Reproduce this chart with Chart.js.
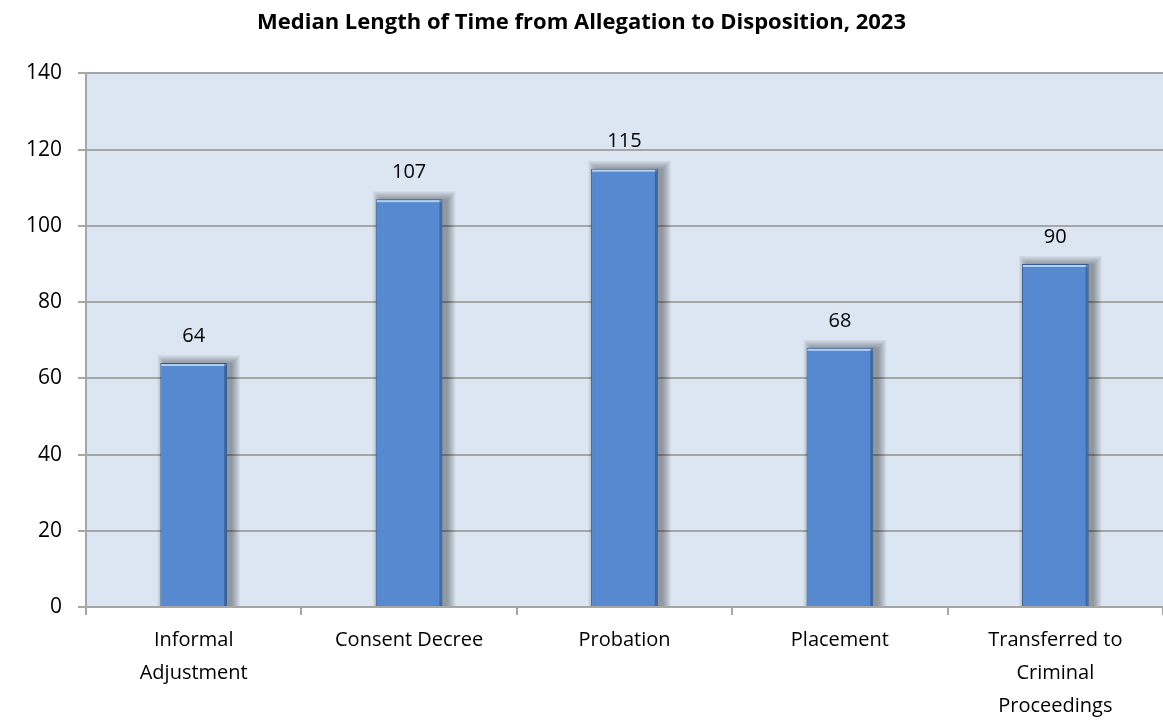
<!DOCTYPE html>
<html>
<head>
<meta charset="utf-8">
<script src="https://cdn.jsdelivr.net/npm/chart.js@4"></script>
<style>
  html, body { margin: 0; padding: 0; background: #fff; }
  #wrap { width: 1163px; height: 720px; }
</style>
</head>
<body>
<div id="wrap"><canvas id="medianChart" width="1163" height="720"></canvas></div>
<script>
// categories and values
const categories = [
    ['Informal', 'Adjustment'],
    'Consent Decree',
    'Probation',
    'Placement',
    ['Transferred to', 'Criminal', 'Proceedings']
];
const medianDays = [64, 107, 115, 68, 90];
const yTicks = [0, 20, 40, 60, 80, 100, 120, 140];

const fontFamily = "'Open Sans', 'Liberation Sans', sans-serif";

// light blue plot background
const plotBackground = {
    id: 'plotBackground',
    beforeDraw(chart) {
        const { ctx, chartArea: a } = chart;
        ctx.save();
        ctx.fillStyle = '#DCE6F2';
        ctx.fillRect(a.left, a.top, a.right - a.left, a.bottom - a.top);
        ctx.restore();
    }
};

// soft shadow behind bars - stacked translucent rects, shadowBlur didn't show up
const barShadow = {
    id: 'barShadow',
    beforeDatasetsDraw(chart) {
        const ctx = chart.ctx;
        const a = chart.chartArea;
        ctx.save();
        ctx.beginPath();
        ctx.rect(a.left, a.top - 20, a.right - a.left, a.bottom - a.top + 19);
        ctx.clip();
        chart.getDatasetMeta(0).data.forEach(bar => {
            const p = bar.getProps(['x', 'y', 'base', 'width'], true);
            const l = p.x - p.width / 2 + 5;
            const t = p.y;
            for (let k = 8; k >= 0; k--) {
                ctx.fillStyle = 'rgba(0, 0, 0, 0.045)';
                ctx.fillRect(l - k, t - k, p.width + 2 * k, p.base - t + 2 * k);
            }
        });
        ctx.restore();
    },
    afterDatasetsDraw(chart) {
        // little bevel: light top edge, darker right edge
        const ctx = chart.ctx;
        ctx.save();
        chart.getDatasetMeta(0).data.forEach(bar => {
            const p = bar.getProps(['x', 'y', 'base', 'width'], true);
            const l = p.x - p.width / 2, r = p.x + p.width / 2;
            ctx.fillStyle = 'rgba(190, 215, 245, 0.9)';
            ctx.fillRect(l + 1, p.y + 1, p.width - 2, 2);
            ctx.fillStyle = 'rgba(40, 80, 140, 0.6)';
            ctx.fillRect(r - 3, p.y + 1, 2, p.base - p.y - 1);
        });
        ctx.restore();
    }
};

// numbers above bars
const valueLabels = {
    id: 'valueLabels',
    afterDatasetsDraw(chart) {
        const ctx = chart.ctx;
        const meta = chart.getDatasetMeta(0);
        ctx.save();
        ctx.fillStyle = '#000';
        ctx.font = '20px ' + fontFamily;
        ctx.textAlign = 'center';
        ctx.textBaseline = 'middle';
        meta.data.forEach((bar, i) => {
            ctx.fillText(medianDays[i], bar.x, bar.y - 27);
        });
        ctx.restore();
    }
};

const ctx = document.getElementById('medianChart').getContext('2d');
new Chart(ctx, {
    type: 'bar',
    data: {
        labels: categories,
        datasets: [{
            data: medianDays,
            backgroundColor: '#5689CF',
            borderColor: '#2F5A8E',
            borderWidth: 1,
            barPercentage: 0.31,
            categoryPercentage: 1.0
        }]
    },
    options: {
        responsive: false,
        animation: false,
        layout: { padding: { left: 0, right: 0, top: 0, bottom: 0 } },
        plugins: {
            legend: { display: false },
            tooltip: { enabled: false },
            title: {
                display: true,
                text: 'Median Length of Time from Allegation to Disposition, 2023',
                color: '#000',
                font: { family: fontFamily, size: 22, weight: 'bold' },
                padding: { top: 10, bottom: 37 }
            }
        },
        scales: {
            x: {
                afterFit(scale) { scale.height = 113; },
                grid: {
                    offset: true,
                    drawOnChartArea: false,
                    color: '#A6A6A6',
                    lineWidth: 2,
                    tickLength: 8
                },
                border: { color: '#A6A6A6', width: 2 },
                ticks: {
                    color: '#000',
                    font: { family: fontFamily, size: 20, lineHeight: 1.65 },
                    padding: 9,
                    maxRotation: 0
                }
            },
            y: {
                min: 0,
                max: 140,
                afterFit(scale) { scale.width = 86; },
                afterBuildTicks(scale) { scale.ticks = yTicks.map(v => ({ value: v })); },
                grid: {
                    color: '#A6A6A6',
                    lineWidth: 2,
                    tickLength: 8
                },
                border: { color: '#A6A6A6', width: 2 },
                ticks: {
                    color: '#000',
                    font: { family: fontFamily, size: 21 },
                    padding: 16
                }
            }
        }
    },
    plugins: [plotBackground, barShadow, valueLabels]
});
</script>
</body>
</html>
